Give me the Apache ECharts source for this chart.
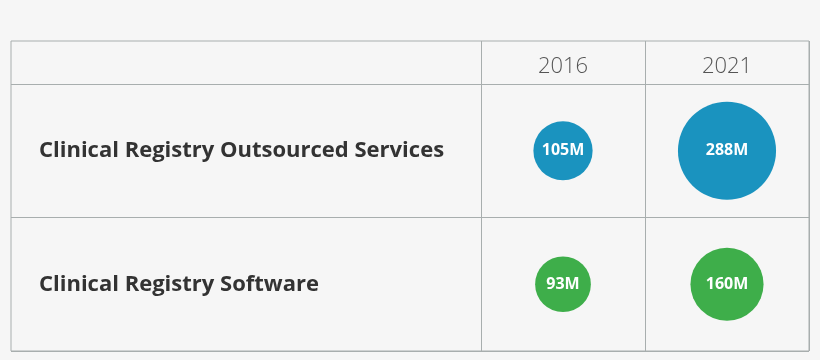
<!DOCTYPE html>
<html><head><meta charset="utf-8">
<script src="https://cdn.jsdelivr.net/npm/echarts@6/dist/echarts.min.js"></script>
<style>html,body{margin:0;padding:0;background:#f6f6f6;}#c{width:820px;height:360px;}</style>
</head><body><div id="c"></div>
<script>
const years = ['2016', '2021'];
const rows = ['Clinical Registry Outsourced Services', 'Clinical Registry Software'];
const outsourced = [105, 288];
const software = [93, 160];
const colors = ['#1a93bf', '#3eae4a'];
const lineColor = '#a8aeae';

const chart = echarts.init(document.getElementById('c'));
const hiddenVal = (g) => ({ type: 'value', gridIndex: g, show: false });
const sizeFn = (v) => 5.78 * Math.sqrt(v[2]);
const mk = (vals, r) => vals.map((v, i) => [years[i], rows[r], v]);

chart.setOption({
  backgroundColor: '#f6f6f6',
  animation: false,
  grid: [
    { left: 11, right: 11, top: 41, bottom: 9, show: true, borderColor: lineColor, borderWidth: 1, backgroundColor: 'transparent' },
    { left: 11, right: 11, top: 84, bottom: 9 },
    { left: 481, right: 11, top: 41, bottom: 9 },
    { left: 481, right: 11, top: 84, bottom: 9 }
  ],
  xAxis: [
    hiddenVal(0),
    hiddenVal(1),
    { type: 'category', gridIndex: 2, data: years, axisLine: { show: false }, axisTick: { show: false }, axisLabel: { show: false },
      splitLine: { show: true, interval: 0, lineStyle: { color: lineColor, width: 1 } } },
    { type: 'category', gridIndex: 3, data: years, position: 'top', axisLine: { show: false }, axisTick: { show: false },
      axisLabel: { margin: 6, color: '#555', fontFamily: 'Open Sans', fontWeight: 300, fontSize: 22 },
      splitLine: { show: false } }
  ],
  yAxis: [
    hiddenVal(0),
    { type: 'category', gridIndex: 1, data: rows, inverse: true, axisLine: { show: false }, axisTick: { show: false }, axisLabel: { show: false },
      splitLine: { show: true, interval: 0, lineStyle: { color: lineColor, width: 1 } } },
    hiddenVal(2),
    { type: 'category', gridIndex: 3, data: rows, inverse: true, axisLine: { show: false }, axisTick: { show: false },
      axisLabel: { margin: 442, align: 'left', color: '#333', fontFamily: 'Open Sans', fontWeight: 'bold', fontSize: 22 },
      splitLine: { show: false } }
  ],
  series: [
    { type: 'scatter', xAxisIndex: 3, yAxisIndex: 3, data: mk(outsourced, 0), symbolSize: sizeFn,
      itemStyle: { color: colors[0], opacity: 1 },
      label: { show: true, position: 'inside', formatter: (p) => p.value[2] + 'M', color: '#fff', fontFamily: 'Open Sans', fontWeight: 'bold', fontSize: 16 } },
    { type: 'scatter', xAxisIndex: 3, yAxisIndex: 3, data: mk(software, 1), symbolSize: sizeFn,
      itemStyle: { color: colors[1], opacity: 1 },
      label: { show: true, position: 'inside', formatter: (p) => p.value[2] + 'M', color: '#fff', fontFamily: 'Open Sans', fontWeight: 'bold', fontSize: 16 } }
  ]
});
</script></body></html>
